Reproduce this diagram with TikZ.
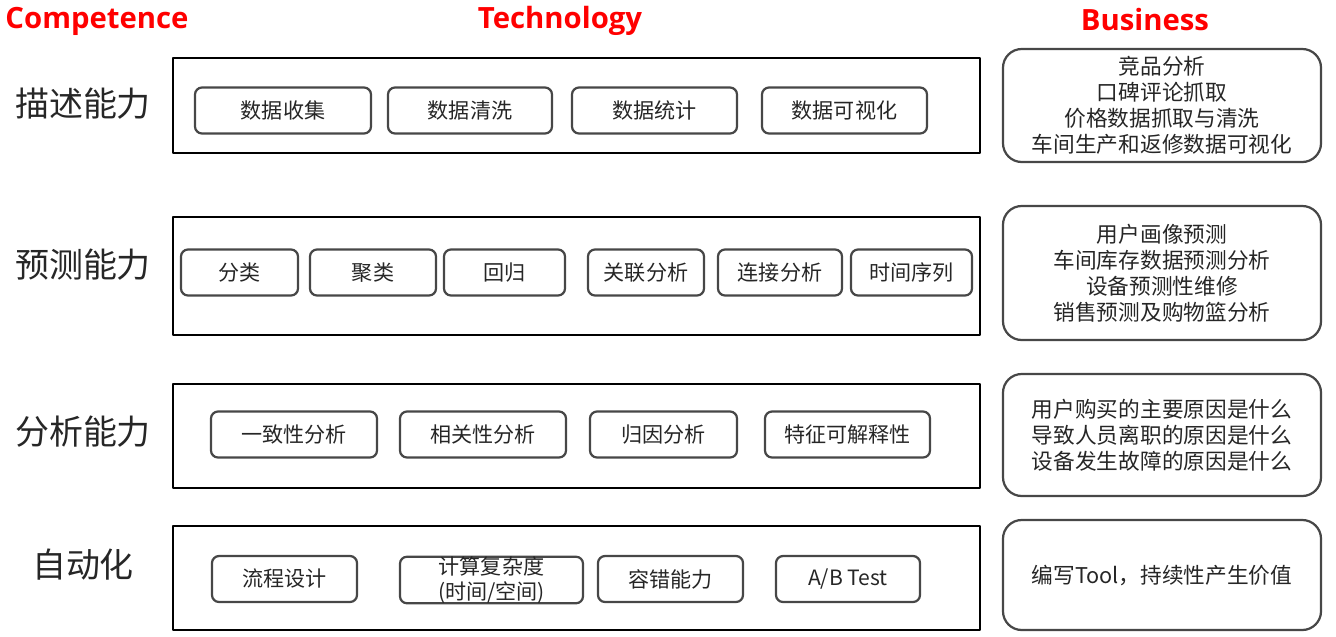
\documentclass[tikz,border=0pt]{standalone}
\usepackage{fontspec}
\setmainfont{Noto Sans CJK SC}
\newfontfamily\headfont{Open Sans}
\begin{document}
\begin{tikzpicture}[x=0.03cm,y=-0.03cm,line join=round,
    header/.style={text=red,font=\headfont\bfseries\fontsize{25}{28}\selectfont},
    ability/.style={text=black!85,font=\fontsize{29}{34}\selectfont},
    layer/.style={draw=black,line width=2.4pt,inner sep=0pt,minimum width=24.21cm},
    techbox/.style={draw=black!72,line width=1.9pt,rounded corners=6pt,inner sep=0pt,
      minimum height=1.38cm,align=center,text=black!85,font=\fontsize{18}{21}\selectfont},
    bizbox/.style={draw=black!72,line width=1.9pt,rounded corners=16pt,inner sep=0pt,
      minimum width=9.54cm,align=center,text=black!85,font=\fontsize{18.5}{22.2}\selectfont}]
  \useasboundingbox (0,0) rectangle (1336,636);

  % 表头
  \node[header] (hcomp) at (97,21) {Competence};
  \node[header] (htech) at (560,21) {Technology};
  \node[header] (hbiz) at (1145,20) {Business};

  % 能力层级
  \node[ability] (a1) at (83,104) {描述能力};
  \node[ability] (a2) at (83,265) {预测能力};
  \node[ability] (a3) at (83,432) {分析能力};
  \node[ability] (a4) at (83,565) {自动化};

  % 技术层外框
  \node[layer,minimum height=2.85cm] (L1) at (576.5,105.5) {};
  \node[layer,minimum height=3.54cm] (L2) at (576.5,276) {};
  \node[layer,minimum height=3.12cm] (L3) at (576.5,436) {};
  \node[layer,minimum height=3.12cm] (L4) at (576.5,578) {};

  % 描述
  \node[techbox,minimum width=5.28cm] (t11) at (283,110.5) {数据收集};
  \node[techbox,minimum width=4.92cm] (t12) at (470,110.5) {数据清洗};
  \node[techbox,minimum width=4.95cm] (t13) at (654.5,110.5) {数据统计};
  \node[techbox,minimum width=4.95cm] (t14) at (844.5,110.5) {数据可视化};

  % 预测
  \node[techbox,minimum width=3.51cm] (t21) at (239.5,272.5) {分类};
  \node[techbox,minimum width=3.78cm] (t22) at (373,272.5) {聚类};
  \node[techbox,minimum width=3.63cm] (t23) at (504.5,272.5) {回归};
  \node[techbox,minimum width=3.48cm] (t24) at (646,272.5) {关联分析};
  \node[techbox,minimum width=3.72cm] (t25) at (780,272.5) {连接分析};
  \node[techbox,minimum width=3.63cm] (t26) at (911.5,272.5) {时间序列};

  % 分析
  \node[techbox,minimum width=4.98cm] (t31) at (294,434.5) {一致性分析};
  \node[techbox,minimum width=4.98cm] (t32) at (483,434.5) {相关性分析};
  \node[techbox,minimum width=4.41cm] (t33) at (663.5,434.5) {归因分析};
  \node[techbox,minimum width=4.95cm] (t34) at (847.5,434.5) {特征可解释性};

  % 自动化
  \node[techbox,minimum width=4.35cm] (t41) at (284.5,579) {流程设计};
  \node[techbox,minimum width=5.49cm] (t42) at (491.5,580) {计算复杂度\\(时间/空间)};
  \node[techbox,minimum width=4.35cm] (t43) at (670.5,579) {容错能力};
  \node[techbox,minimum width=4.32cm] (t44) at (848,579) {A/B Test};

  % 业务场景
  \node[bizbox,minimum height=3.39cm] (b1) at (1162,105.5)
    {竞品分析\\口碑评论抓取\\价格数据抓取与清洗\\车间生产和返修数据可视化};
  \node[bizbox,minimum height=4.02cm] (b2) at (1162,273)
    {用户画像预测\\车间库存数据预测分析\\设备预测性维修\\销售预测及购物篮分析};
  \node[bizbox,minimum height=3.66cm] (b3) at (1162,435)
    {用户购买的主要原因是什么\\导致人员离职的原因是什么\\设备发生故障的原因是什么};
  \node[bizbox,minimum height=3.3cm] (b4) at (1162,575) {编写Tool，持续性产生价值};
\end{tikzpicture}
\end{document}
